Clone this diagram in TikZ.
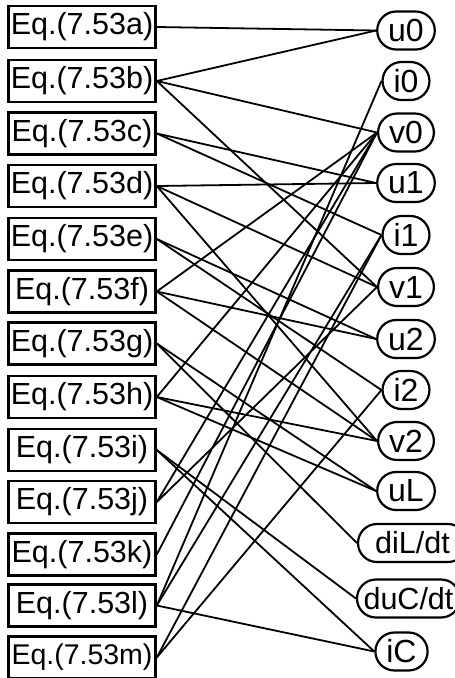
\documentclass[tikz,border=0pt]{standalone}
\usepackage{fontspec}
\setmainfont{Liberation Sans}
\begin{document}
\begin{tikzpicture}[x=1pt,y=-1pt,
  eqbox/.style={draw, line width=2.6pt, minimum width=147pt, minimum height=42pt,
    inner sep=0pt, font=\fontsize{30.5}{36}\selectfont},
  varnode/.style={draw, line width=2.2pt, rounded corners=19pt, minimum height=38pt,
    inner xsep=11pt, inner ysep=0pt, font=\fontsize{32}{38}\selectfont},
  link/.style={line width=1.8pt}]
\useasboundingbox (0,0) rectangle (455,678);

% equations (left column)
\node[eqbox] (ea) at (82,27)    {Eq.(7.53a)};
\node[eqbox] (eb) at (82,81)    {Eq.(7.53b)};
\node[eqbox] (ec) at (82,133.5) {Eq.(7.53c)};
\node[eqbox] (ed) at (82,186)   {Eq.(7.53d)};
\node[eqbox] (ee) at (82,239)   {Eq.(7.53e)};
\node[eqbox] (ef) at (82,291.5) {Eq.(7.53f)};
\node[eqbox] (eg) at (82,343.5) {Eq.(7.53g)};
\node[eqbox] (eh) at (82,397)   {Eq.(7.53h)};
\node[eqbox] (ei) at (82,450)   {Eq.(7.53i)};
\node[eqbox] (ej) at (82,502)   {Eq.(7.53j)};
\node[eqbox] (ek) at (82,554.5) {Eq.(7.53k)};
\node[eqbox] (el) at (82,605.5) {Eq.(7.53l)};
\node[eqbox, font=\fontsize{28.5}{34}\selectfont] (em) at (82,657.5) {Eq.(7.53m)};

% unknowns (right column)
\node[varnode] (vu0)  at (406,30.5)  {u0};
\node[varnode] (vi0)  at (406,81)    {i0};
\node[varnode] (vv0)  at (406,132.5) {v0};
\node[varnode] (vu1)  at (406,183)   {u1};
\node[varnode] (vi1)  at (406,235)   {i1};
\node[varnode] (vv1)  at (406,287)   {v1};
\node[varnode] (vu2)  at (406,339)   {u2};
\node[varnode] (vi2)  at (406,390)   {i2};
\node[varnode] (vv2)  at (406,441)   {v2};
\node[varnode] (vuL)  at (406,491)   {uL};
\node[varnode, minimum width=109pt, inner xsep=0pt, font=\fontsize{30.5}{36}\selectfont] (vdiL) at (412.5,543)   {diL/dt};
\node[varnode, minimum width=103pt, inner xsep=0pt, font=\fontsize{30.5}{36}\selectfont] (vduC) at (408.5,598.5) {duC/dt};
\node[varnode] (viC)  at (401.5,651.5) {iC};

% structure incidences
\foreach \e/\v in {ea/vu0, eb/vu0, eb/vv0, eb/vv1, ec/vu1, ec/vi1,
                   ed/vu1, ed/vv1, ed/vv2, ee/vu2, ee/vi2, ef/vu2, ef/vv2, ef/vv0,
                   eg/vuL, eg/vdiL, eh/vuL, eh/vv2, eh/vv0, ei/viC, ei/vduC,
                   ej/vv1, ej/vv0, ek/vv0, el/vi0, el/vi1, el/viC, em/vi1, em/vi2}
  \draw[link] (\e.east) -- (\v.west);
\end{tikzpicture}
\end{document}
